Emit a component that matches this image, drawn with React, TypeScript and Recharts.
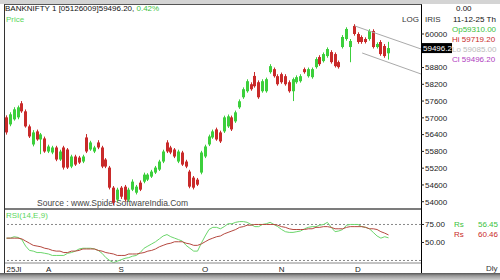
import React from 'react';
import { ComposedChart, Bar, Line, XAxis, YAxis, ReferenceLine } from 'recharts';

// daily candles, oldest first
const opens = [
  57018, 56766, 56946, 57018, 57521, 57233, 56694, 56048, 56515, 56227,
  56263, 55796, 55760, 55940, 55509, 55940, 55868, 55257, 55617, 55580,
  55437, 56299, 55868, 55796, 56120, 55940, 55509, 55221, 54503, 54071,
  54503, 54539, 54071, 54431, 54323, 54682, 54718, 54790, 54898, 55042,
  55149, 55437, 56120, 55940, 55868, 55437, 55760, 55437, 55078, 54862,
  54790, 55042, 55617, 56048, 56299, 56587, 56479, 56515, 56694, 57018,
  56874, 57377, 57736, 57952, 58203, 58500, 58275, 57952, 57952, 58635,
  58742, 58491, 58563, 58491, 58275, 57952, 58275, 58311, 58742, 58491,
  58455, 58814, 59174, 59030, 59210, 59353, 59281, 58994, 59533, 59820,
  59533, 60287, 60000, 59892, 59820, 59820, 60108, 59533, 59713, 59569,
  59310,
];
const highs = [
  57090, 57200, 57380, 57440, 57600, 57300, 56760, 56560, 56580, 56460,
  56330, 56040, 56000, 56000, 55860, 56000, 55920, 55680, 55680, 55640,
  55680, 56420, 56180, 56000, 56200, 56000, 55560, 55280, 54560, 54500,
  54560, 54600, 54500, 54800, 54600, 54760, 55040, 55020, 55140, 55280,
  55500, 55860, 56200, 56000, 55920, 55860, 55820, 55500, 55140, 54920,
  54850, 55820, 56040, 56400, 56580, 56650, 56540, 57080, 57120, 57080,
  57260, 57660, 58090, 58380, 58270, 58640, 58340, 58380, 58440, 58920,
  58800, 58560, 58620, 58560, 58340, 58440, 58520, 58560, 58800, 58800,
  58800, 59170, 59240, 59340, 59520, 59420, 59340, 59050, 59960, 60240,
  59820, 60350, 60060, 59950, 59880, 60170, 60170, 59700, 59780, 59640,
  59719,
];
const lows = [
  56400, 56700, 56900, 56950, 57180, 56650, 56280, 55980, 56180, 55700,
  55750, 55740, 55700, 55450, 55460, 55150, 55170, 55200, 55280, 55350,
  55380, 55740, 55820, 55740, 55880, 55200, 55200, 54440, 53880, 54000,
  54100, 54000, 54000, 54380, 54260, 54380, 54660, 54740, 54850, 54990,
  55100, 55380, 55740, 55700, 55560, 55380, 55280, 55200, 54480, 54440,
  54560, 54980, 55560, 55990, 56250, 56180, 56100, 56460, 56640, 56530,
  56820, 57320, 57680, 57900, 57970, 58080, 57680, 57900, 57900, 58580,
  58440, 58150, 58220, 58150, 57900, 57600, 58220, 58260, 58580, 58440,
  58400, 58760, 58860, 58980, 59150, 58940, 58800, 58760, 59480, 59760,
  58990, 59940, 59650, 59650, 59660, 59760, 59480, 59480, 59220, 59150,
  59085,
];
const closes = [
  56479, 57126, 57305, 57377, 57233, 56694, 56335, 56479, 56227, 56407,
  55796, 55976, 55940, 55509, 55796, 55221, 55221, 55617, 55329, 55400,
  55617, 55796, 56120, 55940, 55940, 55257, 55257, 54503, 53964, 54431,
  54179, 54071, 54431, 54718, 54539, 54431, 54970, 54970, 55078, 55221,
  55437, 55796, 55796, 55760, 55617, 55796, 55329, 55257, 54539, 54503,
  54610, 55760, 55976, 56335, 56515, 56227, 56156, 57018, 57054, 56587,
  57197, 57593, 58024, 58311, 58024, 58132, 57736, 58311, 58383, 58850,
  58491, 58203, 58275, 58203, 57952, 58383, 58455, 58491, 58635, 58742,
  58742, 59102, 58922, 59281, 59461, 58994, 58850, 58814, 59892, 60180,
  59748, 60000, 59713, 59713, 59713, 60108, 59533, 59641, 59281, 59210,
  59496.2,
];

// RSI(14) and its 9 period EMA
const rsiValues = [
  56, 56, 58, 57, 54, 45, 39, 38, 36, 36,
  35, 34, 32, 32, 32, 32, 35, 36, 38, 41,
  42, 42, 42, 41, 39, 35, 29, 25, 22, 24,
  26, 28, 29, 31, 32, 36, 42, 45, 48, 51,
  55, 59, 61, 58, 56, 54, 52, 46, 42, 38,
  38, 49, 59, 68, 71, 71, 69, 72, 76, 76,
  78, 79, 79, 78, 75, 72, 72, 75, 76, 78,
  75, 72, 68, 65, 64, 64, 65, 66, 69, 71,
  72, 72, 74, 75, 78, 71, 65, 66, 68, 74,
  75, 75, 75, 72, 71, 69, 64, 59, 56, 58,
  56.45,
];
const signalValues = [
  56, 56, 56, 56, 55, 52, 49, 46, 45, 44,
  42, 41, 39, 38, 38, 36, 36, 38, 38, 39,
  41, 41, 41, 41, 39, 38, 36, 35, 34, 32,
  32, 32, 34, 34, 34, 35, 36, 38, 39, 41,
  44, 46, 48, 49, 51, 51, 51, 49, 48, 46,
  46, 48, 51, 54, 56, 58, 59, 62, 64, 66,
  68, 71, 72, 74, 74, 75, 75, 75, 75, 75,
  75, 74, 72, 71, 69, 68, 68, 68, 68, 69,
  69, 71, 71, 72, 72, 71, 69, 69, 69, 71,
  72, 72, 72, 72, 71, 69, 69, 68, 65, 63,
  60.46,
];

const priceTicks = [54000, 54600, 55200, 55800, 56400, 57000, 57600, 58200, 58800, 60000];
const rsiTicks = [50, 75];
const monthTicks = [0, 11, 30, 52, 72, 92];
const monthLabels = ['25Jl', 'A', 'S', 'O', 'N', 'D'];
const lastClose = 59496.2;
const channelUpper = [{ x: 91.2, y: 60286 }, { x: 108.5, y: 59463 }];
const channelLower = [{ x: 93.1, y: 59320 }, { x: 108.5, y: 58569 }];

const candles = opens.map((o, i) => ({ i, o, h: highs[i], l: lows[i], c: closes[i] }));
const rsiData = rsiValues.map((r, i) => ({ i, rsi: r, sig: signalValues[i] }));

const FONT = '"Liberation Sans", Arial, sans-serif';
const GREEN = '#3ccf3c';
const RED = '#c92a2a';
const X_DOMAIN = [-0.4, 108.5];

const Candle = (props: any) => {
  const { x, y, width, height, payload } = props;
  if (!payload) return null;
  const top = Math.min(y, y + height);
  const hgt = Math.abs(height);
  const { o, h, l, c } = payload;
  const color = c >= o ? GREEN : RED;
  const k = h - l > 0 ? hgt / (h - l) : 0;
  const yo = top + (h - o) * k;
  const yc = top + (h - c) * k;
  const cx = Math.round(x + width / 2) + 0.5;
  return (
    <g>
      <line x1={cx} x2={cx} y1={top} y2={top + hgt} stroke={color} strokeWidth={1} />
      <rect x={cx - 1.5} y={Math.min(yo, yc)} width={3} height={Math.max(1, Math.abs(yo - yc))} fill={color} />
    </g>
  );
};

const PriceBox = (props: any) => {
  const vb = props.viewBox;
  if (!vb) return null;
  const x = vb.x + vb.width;
  return (
    <g>
      <rect x={x} y={vb.y - 5} width={31} height={10} fill="#000" />
      <text x={x + 2} y={vb.y + 3} fontSize={8} fill="#fff" fontFamily={FONT}>
        59496.2
      </text>
    </g>
  );
};

const MonthTick = (props: any) => {
  const { x, y, payload } = props;
  const k = monthTicks.indexOf(payload.value);
  return (
    <text x={x} y={y + 7} textAnchor={k === 0 ? 'start' : 'middle'} fontSize={8} fill="#222" fontFamily={FONT}>
      {monthLabels[k]}
    </text>
  );
};

const Txt = ({ x, y, color = '#111', size = 8, children }: any) => (
  <div
    style={{
      position: 'absolute',
      left: x,
      top: y,
      fontSize: size,
      lineHeight: '10px',
      color,
      fontFamily: FONT,
      whiteSpace: 'nowrap',
    }}
  >
    {children}
  </div>
);

const App = () => {
  return (
    <div style={{ position: 'absolute', left: 0, top: 0, width: 500, height: 280, background: '#fff', overflow: 'hidden' }}>
      <div style={{ position: 'absolute', left: 0, top: 0, width: 500, height: 4, background: '#d4d4d4' }} />
      <div
        style={{
          position: 'absolute',
          left: 4,
          top: 4,
          width: 418,
          height: 270,
          boxSizing: 'border-box',
          borderLeft: '1px solid #333',
          borderTop: '1px solid #555',
          borderRight: '1px solid #000',
        }}
      />
      <div style={{ position: 'absolute', left: 5, top: 208, width: 416, height: 2, background: '#7c7c7c' }} />
      <div
        style={{
          position: 'absolute',
          left: 0,
          top: 273,
          width: 500,
          height: 7,
          background: 'linear-gradient(#555, #9a9a9a 40%, #cfcfcf)',
        }}
      />

      <Txt x={5} y={4}>
        BANKNIFTY 1 [05126009]59496.20, <span style={{ color: '#3cbf3c' }}>0.42%</span>
      </Txt>
      <Txt x={6} y={15} color="#5cd65c">Price</Txt>
      <Txt x={37} y={198} color="#444" size={8.5}>Source : www.SpiderSoftwareIndia.Com</Txt>
      <Txt x={6} y={211} color="#5cd65c">RSI(14,E,9)</Txt>

      <Txt x={402} y={15} color="#333">LOG</Txt>
      <Txt x={425} y={15} color="#333">IRIS</Txt>
      <Txt x={456} y={4}>0.00</Txt>
      <Txt x={453} y={15}>11-12-25 Th</Txt>
      <Txt x={452} y={25} color="#3cbf3c">Op59310.00</Txt>
      <Txt x={452} y={35} color="#c92a2a">Hi  59719.20</Txt>
      <Txt x={452} y={45} color="#bbbbbb">Lo  59085.00</Txt>
      <Txt x={452} y={55} color="#b040c0">Cl  59496.20</Txt>

      <Txt x={454} y={220} color="#3cbf3c">Rs</Txt>
      <Txt x={478} y={220} color="#3cbf3c">56.45</Txt>
      <Txt x={454} y={230} color="#c92a2a">Rs</Txt>
      <Txt x={478} y={230} color="#c92a2a">60.46</Txt>
      <Txt x={486} y={264} color="#333">Dly</Txt>

      <div style={{ position: 'absolute', left: 5, top: 5 }}>
        <ComposedChart width={495} height={203} data={candles} margin={{ top: 0, right: 0, bottom: 0, left: 0 }}>
          <XAxis dataKey="i" type="number" domain={X_DOMAIN} allowDataOverflow hide />
          <YAxis
            orientation="right"
            width={79}
            domain={[53775, 61037]}
            allowDataOverflow
            ticks={priceTicks}
            interval={0}
            axisLine={false}
            tickSize={3}
            tickMargin={1}
            tickLine={{ stroke: '#222' }}
            tick={{ fontSize: 8, fill: '#222', fontFamily: FONT }}
          />
          <Bar dataKey={(d: any) => [d.l, d.h]} shape={Candle} barSize={3} isAnimationActive={false} />
          <ReferenceLine segment={channelUpper} stroke="#aaa" ifOverflow="visible" />
          <ReferenceLine segment={channelLower} stroke="#aaa" ifOverflow="visible" />
          <ReferenceLine y={lastClose} stroke="none" label={PriceBox} />
        </ComposedChart>
      </div>

      <div style={{ position: 'absolute', left: 5, top: 210 }}>
        <ComposedChart width={495} height={63} data={rsiData} margin={{ top: 0, right: 0, bottom: 0, left: 0 }}>
          <XAxis
            dataKey="i"
            type="number"
            domain={X_DOMAIN}
            allowDataOverflow
            ticks={monthTicks}
            interval={0}
            height={10}
            tickLine={false}
            tickSize={0}
            axisLine={{ stroke: '#888' }}
            tick={MonthTick}
          />
          <YAxis
            orientation="right"
            width={79}
            domain={[21.5, 95.1]}
            allowDataOverflow
            ticks={rsiTicks}
            interval={0}
            axisLine={false}
            tickSize={3}
            tickMargin={1}
            tickLine={{ stroke: '#222' }}
            tickFormatter={(v: number) => v.toFixed(2)}
            tick={{ fontSize: 8, fill: '#222', fontFamily: FONT }}
          />
          <ReferenceLine y={75} stroke="#888" strokeDasharray="2 2" />
          <ReferenceLine y={25} stroke="#888" strokeDasharray="2 2" />
          <Line dataKey="rsi" stroke="#6cd66c" dot={false} strokeWidth={1} isAnimationActive={false} />
          <Line dataKey="sig" stroke="#b5483f" dot={false} strokeWidth={1} isAnimationActive={false} />
        </ComposedChart>
      </div>
    </div>
  );
};

export default App;
